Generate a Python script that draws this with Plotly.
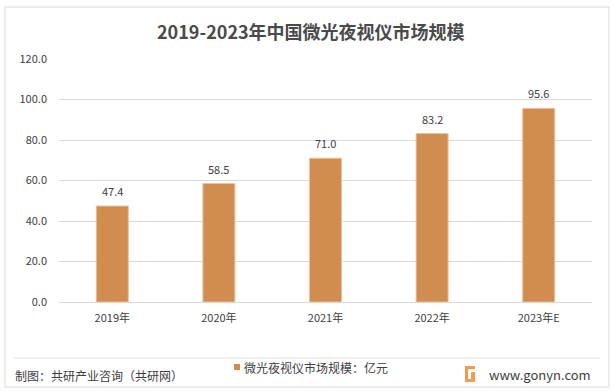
import plotly.graph_objects as go

categories = ["2019年", "2020年", "2021年", "2022年", "2023年E"]
values = [47.4, 58.5, 71.0, 83.2, 95.6]
value_labels = ["47.4", "58.5", "71.0", "83.2", "95.6"]
tick_vals = [0, 20, 40, 60, 80, 100, 120]
tick_text = ["0.0", "20.0", "40.0", "60.0", "80.0", "100.0", "120.0"]

title_text = "2019-2023年中国微光夜视仪市场规模"
legend_name = "微光夜视仪市场规模：亿元"
source_text = "制图：共研产业咨询（共研网）"
site_text = "www.gonyn.com"

W, H = 614, 392
L, R, T, B = 59, 22, 59, 90
pw, ph = W - L - R, H - T - B

def px(x):
    return (x - L) / pw

def py(y):
    return (H - B - y) / ph

FONT = "Noto Sans CJK SC"
TXT = "#404040"

fig = go.Figure()
fig.add_trace(go.Bar(
    x=categories, y=values, name=legend_name,
    marker=dict(color="#D18C4F", line=dict(color="#EBC09A", width=1)),
    showlegend=False,
))

shapes = [
    dict(type="rect", xref="paper", yref="paper", x0=px(5), x1=px(609), y0=py(7), y1=py(387),
         line=dict(color="#D9D9D9", width=1), layer="below"),
    dict(type="line", xref="paper", yref="paper", x0=px(14), x1=px(600), y0=py(358), y1=py(358),
         line=dict(color="#E3E3E3", width=1)),
    # legend swatch
    dict(type="rect", xref="paper", yref="paper", x0=px(234), x1=px(240), y0=py(364), y1=py(370),
         fillcolor="#D18C4F", line=dict(width=0)),
    # logo
    dict(type="rect", xref="paper", yref="paper", x0=px(465), x1=px(475), y0=py(366), y1=py(382),
         fillcolor="#F49A52", line=dict(width=0)),
    dict(type="rect", xref="paper", yref="paper", x0=px(468), x1=px(475), y0=py(369), y1=py(372),
         fillcolor="white", line=dict(width=0)),
    dict(type="rect", xref="paper", yref="paper", x0=px(468), x1=px(471), y0=py(372), y1=py(379),
         fillcolor="white", line=dict(width=0)),
]

annotations = [
    dict(text="<b>" + title_text + "</b>", xref="paper", yref="paper", x=px(311), y=py(31),
         xanchor="center", yanchor="middle", showarrow=False,
         font=dict(size=18, color="#4A4A4A", family=FONT)),
    dict(text=source_text, xref="paper", yref="paper", x=px(13), y=py(375),
         xanchor="left", yanchor="middle", showarrow=False,
         font=dict(size=12, color=TXT, family=FONT)),
    dict(text=site_text, xref="paper", yref="paper", x=px(487), y=py(374),
         xanchor="left", yanchor="middle", showarrow=False,
         font=dict(size=13, color=TXT, family=FONT)),
    dict(text=legend_name, xref="paper", yref="paper", x=px(242), y=py(367),
         xanchor="left", yanchor="middle", showarrow=False,
         font=dict(size=12, color=TXT, family=FONT)),
]
for c, v, t in zip(categories, values, value_labels):
    annotations.append(dict(text=t, x=c, y=v, xref="x", yref="y", yanchor="bottom",
                            yshift=5, showarrow=False,
                            font=dict(size=11, color=TXT, family=FONT)))

fig.update_layout(
    width=W, height=H,
    margin=dict(l=L, r=R, t=T, b=B, autoexpand=False),
    paper_bgcolor="white", plot_bgcolor="white",
    bargap=0.7,
    showlegend=False,
    xaxis=dict(showgrid=False, showline=True, linecolor="#D9D9D9", ticks="",
               ticklabelstandoff=6,
               tickfont=dict(size=11, color=TXT, family=FONT)),
    yaxis=dict(range=[0, 120], tickvals=tick_vals, ticktext=tick_text,
               showgrid=True, gridcolor="#D9D9D9", gridwidth=1, zeroline=False,
               showline=False, ticks="", ticklabelstandoff=11,
               tickfont=dict(size=11, color=TXT, family=FONT)),
    shapes=shapes, annotations=annotations,
    font=dict(family=FONT),
)

fig.write_html("out.html", config={"displayModeBar": False},
               post_script="document.body.style.margin='0';")
